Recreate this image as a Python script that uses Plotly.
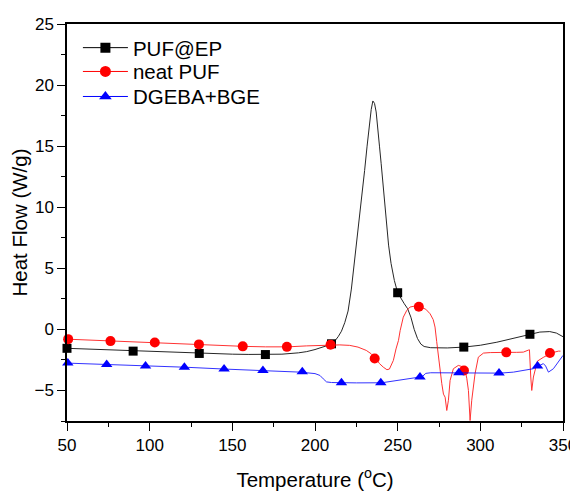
import plotly.graph_objects as go

# ---------------- data ----------------
# PUF@EP (black)
ep_temp = [50, 60, 70, 80, 90, 100, 110, 120, 130, 140, 150, 160, 170, 180, 190, 195, 200, 205,
           208, 210, 212, 214, 216, 218, 220, 222, 224, 226, 228, 230, 231.5, 233, 234, 235, 236,
           237, 238, 239, 240, 241.5, 243, 244.5, 246, 248, 250, 252, 254, 256, 258, 260, 262,
           264, 266, 270, 275, 280, 290, 300, 310, 320, 330, 336, 342, 346, 350]
ep_flow = [-1.55, -1.6, -1.66, -1.72, -1.78, -1.83, -1.88, -1.93, -1.97, -2.0, -2.03, -2.05, -2.06,
           -2.03, -1.92, -1.82, -1.65, -1.45, -1.3, -1.18, -0.95, -0.6, -0.15, 0.55, 1.5, 3.3, 5.6,
           8.0, 10.5, 13.0, 15.0, 17.0, 18.0, 18.7, 18.5, 17.8, 16.6, 15.0, 13.6, 11.5, 8.9, 6.9,
           5.4, 4.0, 3.0, 2.5, 2.1, 1.7, 1.0, 0.0, -0.75, -1.2, -1.4, -1.5, -1.52, -1.52, -1.45,
           -1.3, -1.05, -0.75, -0.4, -0.22, -0.18, -0.3, -0.6]
ep_mark_temp = [50, 90, 130, 170, 210, 250, 290, 330]
ep_mark_flow = [-1.55, -1.78, -1.97, -2.06, -1.18, 3.0, -1.45, -0.4]

# neat PUF (red)
puf_temp = [50, 60, 77, 90, 103.8, 117, 130.5, 145, 157, 170, 183.7, 195, 205, 210, 215, 221, 226,
            231, 234, 236.8, 239, 241.3, 243.5, 245, 247.4, 249, 250.5, 251.5, 253.4, 255.5, 257.5,
            260, 263.5, 267, 269.6, 271.5, 272.6, 273.6, 274.6, 276.7, 277.7, 278.7, 279.7, 280.7,
            281.7, 283.7, 286.7, 289, 290.8, 291.8, 292.8, 293.8, 294.8, 296.8, 298.8, 301.9, 306,
            312, 316.4, 322, 326, 329, 329.7, 330.5, 331.1, 332.1, 333, 334.5, 338, 342.8, 347.2,
            348.5]
puf_flow = [-0.8, -0.86, -0.96, -1.02, -1.07, -1.15, -1.23, -1.32, -1.39, -1.43, -1.43, -1.35,
            -1.28, -1.26, -1.27, -1.31, -1.45, -1.72, -2.0, -2.38, -2.8, -3.09, -3.3, -3.25, -2.54,
            -1.6, -0.9, -0.1, 1.0, 1.55, 1.83, 1.9, 1.85, 1.65, 1.28, 0.8, 0.19, -1.0, -2.3, -4.45,
            -5.3, -5.55, -6.64, -5.8, -4.18, -3.22, -2.95, -3.05, -3.36, -4.0, -5.0, -7.46, -5.8,
            -3.63, -2.27, -1.94, -1.9, -1.86, -1.88, -1.88, -1.86, -1.7, -1.67, -3.9, -5.0, -3.9,
            -3.3, -2.6, -2.3, -1.94, -1.78, -1.78]
puf_mark_temp = [50.7, 76.3, 103.1, 129.8, 156.3, 183.0, 209.4, 236.1, 262.8, 290.1, 315.7, 342.1]
puf_mark_flow = [-0.8, -0.96, -1.07, -1.23, -1.39, -1.43, -1.26, -2.38, 1.85, -3.36, -1.88, -1.94]

# DGEBA+BGE (blue)
dg_temp = [50, 75, 98, 122, 145.6, 169.2, 180, 191, 200, 203, 205, 207, 210, 215, 225, 240.4, 250,
           257.5, 263.5, 265, 267, 270, 280, 290, 300, 312, 320, 328, 332, 336, 338.1, 339.5,
           341.2, 344.2, 347, 350]
dg_flow = [-2.76, -2.87, -3.0, -3.1, -3.25, -3.36, -3.4, -3.5, -3.62, -3.77, -4.05, -4.3, -4.35,
           -4.37, -4.38, -4.37, -4.2, -4.04, -3.9, -3.85, -3.6, -3.55, -3.55, -3.57, -3.57, -3.58,
           -3.5, -3.35, -3.22, -2.95, -2.8, -3.0, -3.5, -3.22, -2.7, -2.13]
dg_mark_temp = [50.5, 74, 97.5, 121, 145, 168.5, 192.3, 216, 239.8, 263.5, 287, 311.3, 334.6]
dg_mark_flow = [-2.76, -2.87, -3.0, -3.1, -3.25, -3.36, -3.47, -4.37, -4.37, -3.9, -3.56, -3.58,
                -3.0]

series_names = ["PUF@EP", "neat PUF", "DGEBA+BGE"]

x_ticks = [50, 100, 150, 200, 250, 300, 350]
y_ticks = [-5, 0, 5, 10, 15, 20, 25]

# ---------------- figure ----------------
FONT = "Arial, 'Liberation Sans', sans-serif"
fig = go.Figure()

specs = [
    (series_names[0], ep_temp, ep_flow, ep_mark_temp, ep_mark_flow, "#000000", "square", 9, 10, "legend"),
    (series_names[1], puf_temp, puf_flow, puf_mark_temp, puf_mark_flow, "#ff0000", "circle", 10, 11, "legend2"),
    (series_names[2], dg_temp, dg_flow, dg_mark_temp, dg_mark_flow, "#0000ff", "triangle-up", 10, 11, "legend3"),
]

for name, xt, yt, xm, ym, col, sym, msize, lsize, leg in specs:
    fig.add_trace(go.Scatter(x=xt, y=yt, mode="lines", line=dict(color=col, width=1),
                             opacity=0.8 if col != "#000000" else 0.85,
                             showlegend=False, hoverinfo="skip", legendgroup=name))
    fig.add_trace(go.Scatter(x=xm, y=ym, mode="markers", cliponaxis=False,
                             marker=dict(symbol=sym, size=msize, color=col, line=dict(width=0)),
                             showlegend=False, legendgroup=name))
    fig.add_trace(go.Scatter(x=[None], y=[None], mode="lines+markers", name=name,
                             line=dict(color=col, width=1),
                             marker=dict(symbol=sym, size=lsize, color=col, line=dict(width=0)),
                             legendgroup=name, legend=leg))

axis_common = dict(
    showline=True, linecolor="black", linewidth=1.5, mirror=True,
    ticks="outside", ticklen=8, tickwidth=1.2, tickcolor="black",
    showgrid=False, zeroline=False, automargin=False,
    tickfont=dict(family=FONT, size=17, color="black"),
)

def leg_cfg(yc):
    return dict(x=0.022, y=yc, xanchor="left", yanchor="middle",
                bgcolor="rgba(0,0,0,0)", borderwidth=0,
                font=dict(family=FONT, size=20.5, color="black"),
                itemwidth=45)

# the page body has an 8px margin, so the figure is sized to fit inside the window
fig.update_layout(
    width=570, height=483,
    margin=dict(l=59, r=15, t=16, b=70),
    paper_bgcolor="white", plot_bgcolor="white",
    font=dict(family=FONT, color="black"),
    showlegend=True,
    legend=leg_cfg(0.940),
    legend2=leg_cfg(0.880),
    legend3=leg_cfg(0.817),
    xaxis=dict(range=[50, 350], tickvals=x_ticks,
               title=dict(text="Temperature (<sup>o</sup>C)", font=dict(family=FONT, size=20.5), standoff=19),
               minor=dict(dtick=25, tick0=50, ticks="outside", ticklen=4, tickwidth=1.2, tickcolor="black"),
               **axis_common),
    yaxis=dict(range=[-7.5, 25], tickvals=y_ticks,
               title=dict(text="Heat Flow (W/g)", font=dict(family=FONT, size=20.5), standoff=1),
               minor=dict(dtick=2.5, tick0=0, ticks="outside", ticklen=4, tickwidth=1.2, tickcolor="black"),
               **axis_common),
)

fig.write_html("out.html")
